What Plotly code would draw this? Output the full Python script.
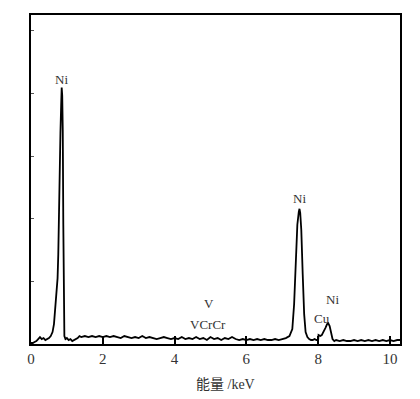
import plotly.graph_objects as go

energy = [0.00, 0.05, 0.10, 0.15, 0.20, 0.25, 0.30, 0.35, 0.40, 0.45, 0.50, 0.55, 0.60, 0.64, 0.67,
          0.70, 0.72, 0.74, 0.76, 0.78, 0.80, 0.82, 0.84, 0.855, 0.87, 0.885, 0.90, 0.915, 0.93, 0.96,
          1.00, 1.05, 1.10, 1.15, 1.20, 1.25, 1.30, 1.35, 1.40, 1.50, 1.60, 1.70, 1.80, 1.90, 2.00,
          2.10, 2.20, 2.30, 2.40, 2.50, 2.60, 2.70, 2.80, 2.90, 3.00, 3.10, 3.20, 3.30, 3.40, 3.50,
          3.60, 3.70, 3.80, 3.90, 4.00, 4.10, 4.20, 4.30, 4.40, 4.50, 4.60, 4.70, 4.80, 4.90, 5.00,
          5.10, 5.20, 5.30, 5.40, 5.50, 5.60, 5.70, 5.80, 5.90, 6.00, 6.10, 6.20, 6.30, 6.40, 6.50,
          6.60, 6.70, 6.80, 6.90, 7.00, 7.10, 7.20, 7.28, 7.33, 7.38, 7.42, 7.46, 7.48, 7.50, 7.53,
          7.57, 7.61, 7.65, 7.70, 7.75, 7.80, 7.85, 7.90, 7.95, 8.00, 8.01, 8.06, 8.10, 8.15, 8.20,
          8.25, 8.28, 8.32, 8.36, 8.40, 8.45, 8.50, 8.60, 8.70, 8.80, 8.90, 9.00, 9.10, 9.20, 9.30,
          9.40, 9.50, 9.60, 9.70, 9.80, 9.90, 10.00, 10.10, 10.20, 10.28]
counts = [1, 1, 2, 3, 5, 7, 5, 6, 4, 5, 6, 8, 12, 20, 35,
          52, 60, 66, 90, 140, 195, 212, 240, 258, 250, 215, 120, 30, 8, 5,
          6, 4, 5, 3, 4, 5, 6, 8, 7, 8, 7, 8, 7, 8, 7,
          8, 7, 8, 7, 6, 8, 7, 6, 7, 6, 8, 6, 7, 6, 5,
          6, 7, 6, 5, 6, 5, 7, 5, 6, 5, 7, 5, 6, 4, 7,
          5, 6, 4, 6, 5, 7, 5, 4, 5, 4, 5, 4, 5, 4, 5,
          4, 4, 5, 4, 5, 6, 8, 15, 40, 90, 120, 133, 136, 132, 115,
          70, 30, 12, 7, 5, 4, 4, 5, 4, 4, 9, 8, 9, 12, 16,
          20, 21, 18, 12, 5, 3, 4, 3, 4, 3, 3, 4, 3, 4, 3,
          4, 3, 4, 3, 4, 3, 4, 3, 4, 4]

x_ticks = [0, 2, 4, 6, 8, 10]
peak_labels = ["Ni", "Ni", "Ni", "Cu", "V", "VCrCr"]
peak_x = [0.86, 7.47, 8.41, 8.10, 4.96, 4.93]
peak_y = [266, 146, 45, 26, 41, 20]

serif = "Liberation Serif, Times New Roman, serif"

fig = go.Figure()
fig.add_trace(go.Scatter(x=energy, y=counts, mode="lines",
                         line=dict(color="black", width=1.8), hoverinfo="skip"))

for t, xx, yy in zip(peak_labels, peak_x, peak_y):
    fig.add_annotation(x=xx, y=yy, text=t, showarrow=False,
                       font=dict(family=serif, size=13, color="#333333"))

fig.add_annotation(x=0.526, y=-0.124, xref="paper", yref="paper", text="能量 /keV",
                   showarrow=False, yanchor="middle",
                   font=dict(family="Liberation Serif, Noto Sans CJK SC", size=14, color="#333333"))

fig.update_xaxes(range=[0, 10.28], tickvals=x_ticks, ticktext=[str(v) for v in x_ticks],
                 ticks="inside", ticklen=8, tickwidth=1.5, tickcolor="black",
                 showline=True, linecolor="black", linewidth=2, mirror=True,
                 showgrid=False, zeroline=False,
                 tickfont=dict(family=serif, size=15, color="#333333"))
fig.update_yaxes(range=[0, 331], dtick=63, tick0=0, showticklabels=False,
                 ticks="inside", ticklen=3, tickwidth=1, tickcolor="#555555",
                 showline=True, linecolor="black", linewidth=2, mirror=True,
                 showgrid=False, zeroline=False)

fig.update_layout(width=404, height=383, margin=dict(l=23, r=12, t=5, b=47),
                  paper_bgcolor="white", plot_bgcolor="white", showlegend=False)

fig.write_html("out.html")
